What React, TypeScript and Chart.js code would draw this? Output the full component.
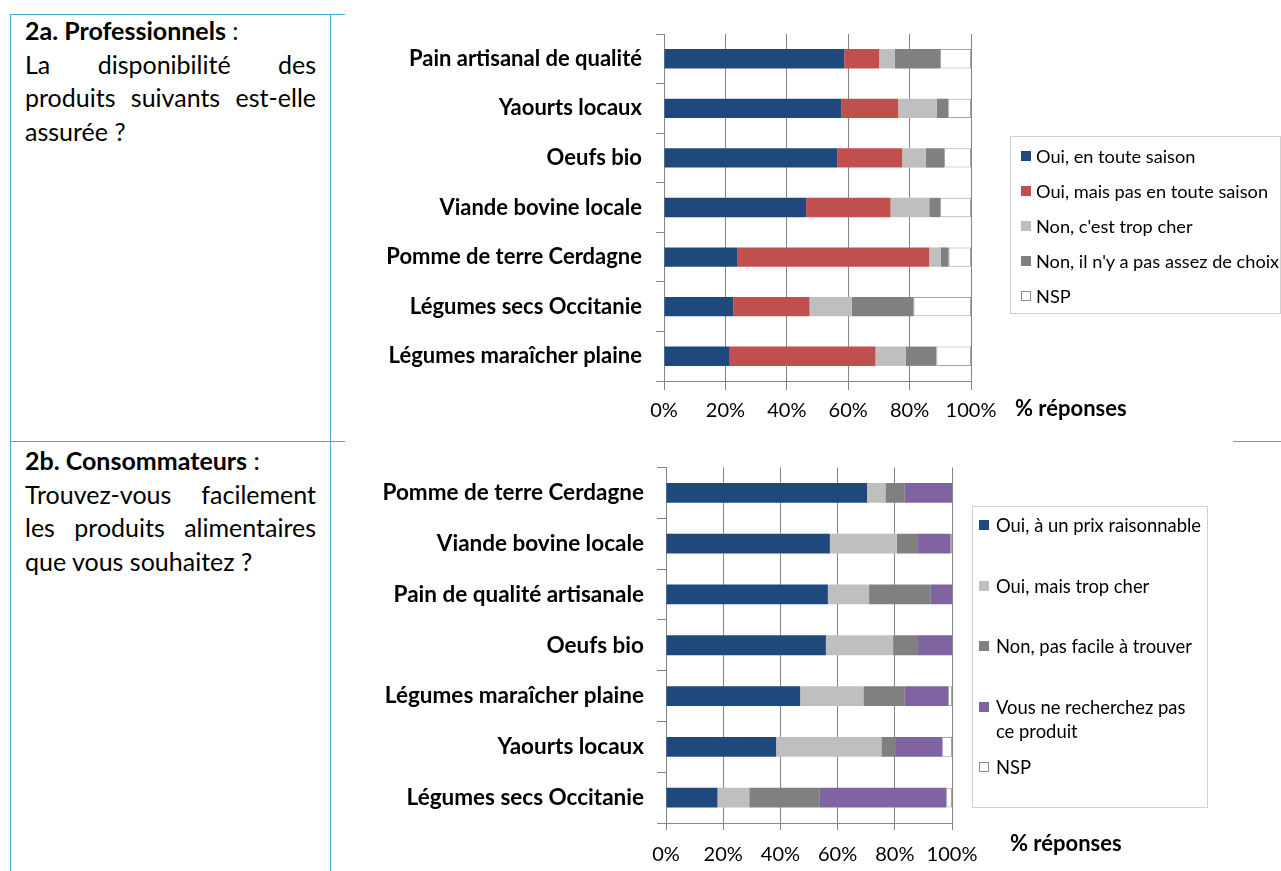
import React, { useEffect, useRef } from "react";
import { Chart, registerables } from "chart.js";
Chart.register(...registerables);

// ---------- DATA ----------
const proCategories = [
  "Pain artisanal de qualité",
  "Yaourts locaux",
  "Oeufs bio",
  "Viande bovine locale",
  "Pomme de terre Cerdagne",
  "Légumes secs Occitanie",
  "Légumes maraîcher plaine",
];
const proOuiToute = [58.7, 57.7, 56.4, 46.3, 23.8, 22.6, 21.4];
const proOuiPas = [11.4, 18.6, 21.2, 27.5, 62.6, 24.8, 47.5];
const proTropCher = [5.0, 12.6, 7.6, 12.6, 3.7, 13.8, 9.8];
const proPasChoix = [14.8, 3.7, 6.0, 3.5, 2.6, 20.1, 10.0];
const proNSP = [10.1, 7.4, 8.8, 10.1, 7.3, 18.7, 11.3];
const proLabels = [
  "Oui, en toute saison",
  "Oui, mais pas en toute saison",
  "Non, c'est trop cher",
  "Non, il n'y a pas assez de choix",
  "NSP",
];

const conCategories = [
  "Pomme de terre Cerdagne",
  "Viande bovine locale",
  "Pain de qualité artisanale",
  "Oeufs bio",
  "Légumes maraîcher plaine",
  "Yaourts locaux",
  "Légumes secs Occitanie",
];
const conRaisonnable = [70.3, 57.3, 56.6, 55.9, 46.9, 38.5, 18.0];
const conTropCher = [6.4, 23.4, 14.4, 23.5, 22.1, 36.8, 11.1];
const conPasFacile = [6.8, 7.1, 21.6, 8.4, 14.5, 4.8, 24.7];
const conNeRecherche = [16.5, 11.5, 7.4, 12.2, 15.1, 16.5, 44.2];
const conNSP = [0, 0.7, 0, 0, 1.4, 3.4, 2.0];
const conLabels = [
  "Oui, à un prix raisonnable",
  "Oui, mais trop cher",
  "Non, pas facile à trouver",
  "Vous ne recherchez pas ce produit",
  "NSP",
];

const xTicks = [0, 20, 40, 60, 80, 100];
const axisTitle = "% réponses";

// ---------- STYLES ----------
const BLUE = "#1F497D";
const RED = "#C0504D";
const LGRAY = "#BFBFBF";
const DGRAY = "#808080";
const PURPLE = "#8064A2";
const NSPC = "#FFFFFF";
const GRID = "#868686";
const TEAL = "#4BACC6";
const FONT = "Lato, 'Open Sans', sans-serif";

type Geo = {
  left: number;
  top: number;
  width: number;
  height: number;
  padTop: number;
  padRight: number;
  yWidth: number;
  xHeight: number;
  xTickLen: number;
  xPad: number;
  yTickLen: number;
  yPad: number;
  yFont: number;
};

function StackedChart(props: {
  categories: string[];
  series: number[][];
  labels: string[];
  colors: string[];
  geo: Geo;
}) {
  const ref = useRef<HTMLCanvasElement | null>(null);
  useEffect(() => {
    const g = props.geo;
    const datasets = props.series.map((d, i) => {
      const isNsp = props.colors[i] === NSPC;
      return {
        label: props.labels[i],
        data: d,
        backgroundColor: props.colors[i],
        borderColor: isNsp ? "#A6A6A6" : props.colors[i],
        borderWidth: isNsp ? 1 : 0,
        borderSkipped: false as any,
        barPercentage: 0.39,
        categoryPercentage: 1,
      };
    });
    const chart = new Chart(ref.current as HTMLCanvasElement, {
      type: "bar",
      data: { labels: props.categories, datasets },
      options: {
        animation: false,
        responsive: false,
        maintainAspectRatio: false,
        indexAxis: "y",
        layout: { padding: { left: 0, top: g.padTop, right: g.padRight, bottom: 0 } },
        plugins: { legend: { display: false }, tooltip: { enabled: false } },
        scales: {
          x: {
            stacked: true,
            min: 0,
            max: 100,
            afterBuildTicks: (s: any) => {
              s.ticks = xTicks.map((v) => ({ value: v }));
            },
            ticks: {
              callback: (v: any) => v + "%",
              font: { family: FONT, size: 20 },
              color: "#000",
              padding: g.xPad,
              maxRotation: 0,
              autoSkip: false,
            },
            grid: { color: GRID, tickLength: g.xTickLen, tickColor: GRID, lineWidth: 1 },
            border: { color: GRID },
            afterFit: (s: any) => {
              s.height = g.xHeight;
            },
          },
          y: {
            stacked: true,
            ticks: {
              font: { family: FONT, size: g.yFont, weight: "bold" },
              color: "#000",
              padding: g.yPad,
              autoSkip: false,
            },
            grid: {
              drawOnChartArea: false,
              tickLength: g.yTickLen,
              color: GRID,
              offset: true,
            },
            border: { color: GRID },
            afterFit: (s: any) => {
              s.width = g.yWidth;
            },
          },
        },
      } as any,
    });
    return () => chart.destroy();
  }, []);
  const g = props.geo;
  return (
    <canvas
      ref={ref}
      width={g.width}
      height={g.height}
      style={{ position: "absolute", left: g.left, top: g.top, width: g.width, height: g.height, display: "block" }}
    />
  );
}

function Legend(props: {
  left: number;
  top: number;
  width: number;
  height: number;
  markerX: number;
  textX: number;
  fontSize: number;
  items: { label: string; color: string; y: number; lines?: string[] }[];
}) {
  return (
    <div
      style={{
        position: "absolute",
        left: props.left,
        top: props.top,
        width: props.width,
        height: props.height,
        border: "1px solid #D0D0D0",
        boxSizing: "border-box",
        fontFamily: FONT,
        fontSize: props.fontSize,
        color: "#000",
      }}
    >
      {props.items.map((it, i) => (
        <React.Fragment key={i}>
          <div
            style={{
              position: "absolute",
              left: props.markerX,
              top: it.y - 5,
              width: 10,
              height: 10,
              boxSizing: "border-box",
              background: it.color,
              border: it.color === NSPC ? "1px solid #8C8C8C" : "none",
            }}
          />
          {(it.lines || [it.label]).map((ln, j) => (
            <div
              key={j}
              style={{
                position: "absolute",
                left: props.textX,
                top: it.y - 12 + j * 23.5,
                height: 24,
                lineHeight: "24px",
                whiteSpace: "nowrap",
              }}
            >
              {ln}
            </div>
          ))}
        </React.Fragment>
      ))}
    </div>
  );
}

function TextBlock(props: { top: number; lines: { text: React.ReactNode; justify: boolean }[] }) {
  return (
    <div
      style={{
        position: "absolute",
        left: 25,
        top: props.top,
        width: 291,
        fontFamily: FONT,
        fontSize: 25,
        lineHeight: "33.5px",
        color: "#000",
      }}
    >
      {props.lines.map((l, i) => (
        <div
          key={i}
          style={{
            textAlign: l.justify ? "justify" : "left",
            textAlignLast: l.justify ? "justify" : "left",
            whiteSpace: "nowrap",
          } as any}
        >
          {l.text}
        </div>
      ))}
    </div>
  );
}

export default function App() {
  const line = (left: number, top: number, width: number, height: number) => (
    <div style={{ position: "absolute", left, top, width, height, background: TEAL }} />
  );
  const proGeo: Geo = {
    left: 350,
    top: 0,
    width: 931,
    height: 441,
    padTop: 34,
    padRight: 310,
    yWidth: 314,
    xHeight: 60,
    xTickLen: 9,
    xPad: 9,
    yTickLen: 8,
    yPad: 14,
    yFont: 22,
  };
  const conGeo: Geo = {
    left: 350,
    top: 441,
    width: 931,
    height: 430,
    padTop: 21,
    padRight: 329,
    yWidth: 316,
    xHeight: 48,
    xTickLen: 7,
    xPad: 13,
    yTickLen: 9,
    yPad: 13,
    yFont: 22.5,
  };
  return (
    <div style={{ position: "absolute", left: 0, top: 0, width: 1281, height: 871, background: "#fff", overflow: "hidden" }}>
      {line(10, 14, 335, 1)}
      {line(10, 14, 1, 857)}
      {line(330, 14, 1, 857)}
      {line(10, 441, 335, 1)}
      {line(1233, 441, 48, 1)}

      <TextBlock
        top={14}
        lines={[
          { text: <span><b>2a. Professionnels</b> :</span>, justify: false },
          { text: "La disponibilité des", justify: true },
          { text: "produits suivants est-elle", justify: true },
          { text: "assurée ?", justify: false },
        ]}
      />
      <TextBlock
        top={444}
        lines={[
          { text: <span><b>2b. Consommateurs</b> :</span>, justify: false },
          { text: "Trouvez-vous facilement", justify: true },
          { text: "les produits alimentaires", justify: true },
          { text: "que vous souhaitez ?", justify: false },
        ]}
      />

      <StackedChart
        categories={proCategories}
        series={[proOuiToute, proOuiPas, proTropCher, proPasChoix, proNSP]}
        labels={proLabels}
        colors={[BLUE, RED, LGRAY, DGRAY, NSPC]}
        geo={proGeo}
      />
      <StackedChart
        categories={conCategories}
        series={[conRaisonnable, conTropCher, conPasFacile, conNeRecherche, conNSP]}
        labels={conLabels}
        colors={[BLUE, LGRAY, DGRAY, PURPLE, NSPC]}
        geo={conGeo}
      />

      <div style={{ position: "absolute", left: 1015, top: 395, fontFamily: FONT, fontWeight: "bold", fontSize: 22, lineHeight: "26px" }}>
        {axisTitle}
      </div>
      <div style={{ position: "absolute", left: 1010, top: 830, fontFamily: FONT, fontWeight: "bold", fontSize: 22, lineHeight: "26px" }}>
        {axisTitle}
      </div>

      <Legend
        left={1010}
        top={136}
        width={271}
        height={178}
        markerX={10}
        textX={25}
        fontSize={18.2}
        items={[
          { label: proLabels[0], color: BLUE, y: 18.5 },
          { label: proLabels[1], color: RED, y: 53.5 },
          { label: proLabels[2], color: LGRAY, y: 88.5 },
          { label: proLabels[3], color: DGRAY, y: 123.5 },
          { label: proLabels[4], color: NSPC, y: 158.5 },
        ]}
      />
      <Legend
        left={972}
        top={506}
        width={236}
        height={302}
        markerX={6}
        textX={23}
        fontSize={18.4}
        items={[
          { label: conLabels[0], color: BLUE, y: 17.5 },
          { label: conLabels[1], color: LGRAY, y: 78.5 },
          { label: conLabels[2], color: DGRAY, y: 139 },
          { label: conLabels[3], color: PURPLE, y: 200, lines: ["Vous ne recherchez pas", "ce produit"] },
          { label: conLabels[4], color: NSPC, y: 260 },
        ]}
      />
    </div>
  );
}
